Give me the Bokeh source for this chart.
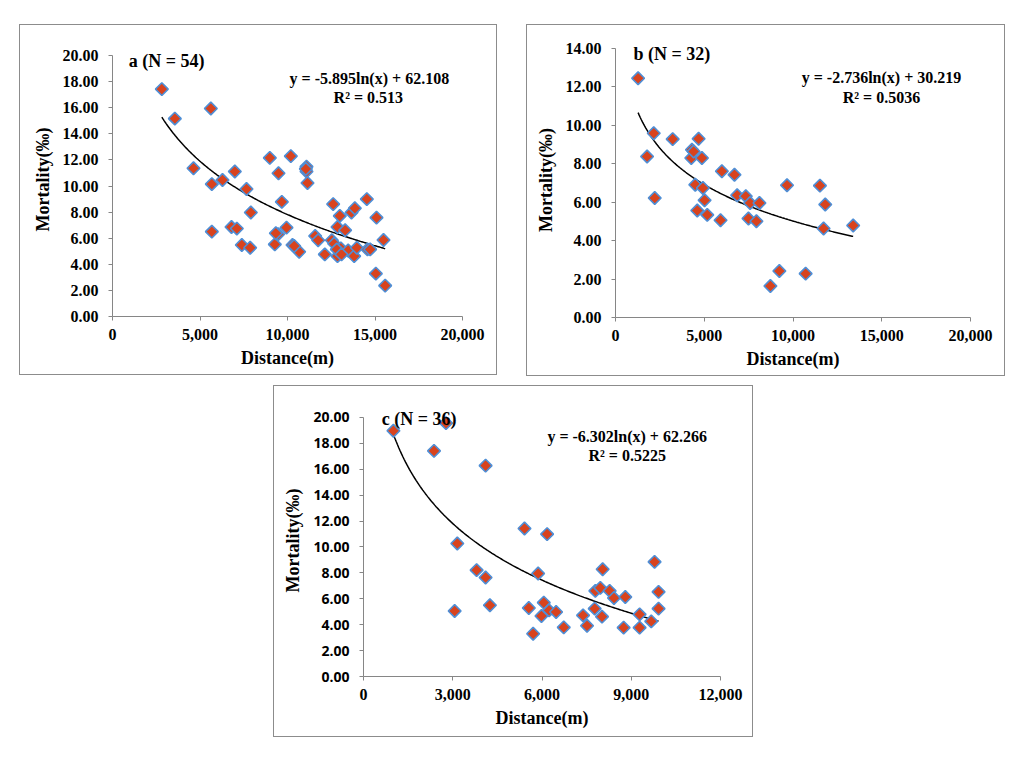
import numpy as np
from bokeh.plotting import figure
from bokeh.layouts import column, row
from bokeh.models import Range1d, FixedTicker, NumeralTickFormatter, Label, Spacer
from bokeh.embed import file_html
from bokeh.resources import INLINE

# ---------------- data ----------------
a_dist = [2819, 3562, 5619, 4629, 5676, 6286, 6990, 7657, 7905, 5676, 6800, 7105, 7390, 7867,
          8990, 10190, 9486, 9676, 9943, 9467, 9276, 10286, 10667, 11086, 11086, 11143, 12610,
          12990, 12857, 13295, 11581, 11752, 12133, 12533, 12667, 12857, 13048, 12819, 13467,
          13810, 13962, 13657, 13848, 14533, 14571, 14724, 15086, 15486, 15048, 15581, 13086,
          10381, 9333, 11048]
a_mort = [17.43, 15.17, 15.94, 11.36, 10.15, 10.46, 11.11, 9.77, 7.97, 6.50, 6.86, 6.74, 5.48, 5.27,
          12.16, 12.29, 10.98, 8.79, 6.81, 6.30, 5.53, 5.48, 4.96, 11.49, 11.11, 10.23, 8.61,
          7.71, 6.86, 6.61, 6.17, 5.84, 4.76, 5.84, 5.58, 4.63, 5.22, 5.14, 5.06,
          4.63, 5.27, 7.97, 8.30, 9.00, 5.14, 5.14, 7.58, 5.86, 3.29, 2.37, 4.76,
          5.40, 6.38, 11.31]

b_dist = [1273, 2154, 1779, 2210, 3221, 4307, 4270, 4682, 4869, 4494, 4925, 5019, 4607, 5169,
          5993, 6704, 5918, 6854, 7341, 7584, 8109, 7491, 7940, 9663, 11517, 11817, 11723,
          13390, 9232, 8727, 10712, 4401]
b_mort = [12.45, 9.59, 8.38, 6.22, 9.28, 8.73, 8.30, 9.30, 8.30, 6.91, 6.74, 6.10, 5.57, 5.34,
          7.61, 7.43, 5.06, 6.36, 6.31, 5.96, 5.96, 5.15, 5.01, 6.88, 6.86, 5.88, 4.63,
          4.79, 2.42, 1.64, 2.28, 8.64]

c_dist = [1006, 2773, 2370, 4104, 3153, 3064, 3802, 4104, 4249, 5412, 6172, 5870, 5557, 6060,
          6239, 6474, 5982, 5702, 6731, 7380, 7514, 7771, 7793, 7961, 8039, 8017, 8274, 8420,
          8800, 8744, 9281, 9281, 9672, 9784, 9918, 9918]
c_mort = [18.97, 19.56, 17.42, 16.28, 10.27, 5.06, 8.21, 7.64, 5.50, 11.43, 10.99, 7.95, 5.29, 5.70,
          5.11, 4.98, 4.67, 3.30, 3.79, 4.72, 3.92, 5.24, 6.61, 6.84, 8.28, 4.62, 6.61, 6.06,
          6.14, 3.77, 4.80, 3.77, 4.26, 8.85, 6.53, 5.24]

# fitted logarithmic trends shown on the chart: y = k*ln(x) + c
a_fit = [-5.895, 62.108]
b_fit = [-2.736, 30.219]
c_fit = [-6.302, 62.266]

titles = ["a (N = 54)", "b  (N = 32)", "c  (N = 36)"]
equations = ["y = -5.895ln(x) + 62.108", "y = -2.736ln(x) + 30.219", "y = -6.302ln(x) + 62.266"]
r2_texts = ["R² = 0.513", "R² = 0.5036", "R² = 0.5225"]

SERIF = "Liberation Serif"
AXIS_COL = "#868686"
FILL = "#d8431e"
EDGE = "#4f8fd6"


def make_panel(dist, mort, fit, title, eq, r2, xmax, ymax, ytop, xstep, ystep,
               w, h, ml, mr, mt, mb, title_pos, eq_pos, r2_pos, ysans=False):
    # the y range extends a little above the last tick so the in-plot titles are not clipped;
    # the axis line itself stops at ymax through its bounds
    p = figure(width=w, height=h, output_backend="svg", toolbar_location=None, title=None,
               x_range=Range1d(0, xmax), y_range=Range1d(0, ytop),
               min_border_left=ml, min_border_right=mr, min_border_top=mt, min_border_bottom=mb,
               background_fill_color="white", border_fill_color="white")
    p.styles = {"border": "1px solid #8c8c8c"}
    p.outline_line_color = None
    p.xgrid.visible = False
    p.ygrid.visible = False

    for ax in (p.xaxis[0], p.yaxis[0]):
        ax.axis_line_color = AXIS_COL
        ax.major_tick_line_color = AXIS_COL
        ax.minor_tick_line_color = None
        ax.major_tick_out = 4
        ax.major_tick_in = 0
        ax.major_label_text_font = SERIF
        ax.major_label_text_font_style = "bold"
        ax.major_label_text_font_size = "16px"
        ax.major_label_text_color = "black"
        ax.axis_label_text_font = SERIF
        ax.axis_label_text_font_style = "bold"
        ax.axis_label_text_font_size = "18px"
        ax.axis_label_text_color = "black"

    p.yaxis.bounds = (0, ymax)
    p.xaxis.ticker = FixedTicker(ticks=list(np.arange(0, xmax + 1, xstep)))
    p.yaxis.ticker = FixedTicker(ticks=list(np.arange(0, ymax + 0.01, ystep)))
    p.xaxis.formatter = NumeralTickFormatter(format="0,0")
    p.yaxis.formatter = NumeralTickFormatter(format="0.00")
    p.xaxis.axis_label = "Distance(m)"
    p.yaxis.axis_label = "Mortality(‰)"
    p.xaxis.major_label_standoff = 8
    p.yaxis.major_label_standoff = 10
    p.xaxis.axis_label_standoff = 5
    p.yaxis.axis_label_standoff = 7
    if ysans:
        p.yaxis.major_label_text_font = "Open Sans"
        p.yaxis.major_label_text_font_size = "14px"

    xs = np.linspace(min(dist), max(dist), 200)
    ys = fit[0] * np.log(xs) + fit[1]
    p.line(xs, ys, line_color="black", line_width=1.5)

    p.scatter(dist, mort, marker="square", angle=np.pi / 4, size=9,
              fill_color=FILL, line_color=EDGE, line_width=1.6)

    p.add_layout(Label(x=title_pos[0], y=title_pos[1], text=title, text_font=SERIF,
                       text_font_style="bold", text_font_size="18px", text_color="black",
                       text_align="left", text_baseline="middle"))
    p.add_layout(Label(x=eq_pos[0], y=eq_pos[1], text=eq, text_font=SERIF,
                       text_font_style="bold", text_font_size="16px", text_color="black",
                       text_align="center", text_baseline="middle"))
    p.add_layout(Label(x=r2_pos[0], y=r2_pos[1], text=r2, text_font=SERIF,
                       text_font_style="bold", text_font_size="16px", text_color="black",
                       text_align="center", text_baseline="middle"))
    return p


# panels a and b sit in one row, whose frames Bokeh aligns: same top/bottom borders,
# the different top-tick positions come from the extra range above the last tick
pa = make_panel(a_dist, a_mort, a_fit, titles[0], equations[0], r2_texts[0],
                20000, 20, 21.0, 5000, 2, 478, 351, 92, 36, 17, 60,
                (930, 19.6), (14678, 18.23), (14620, 16.77))
pb = make_panel(b_dist, b_mort, b_fit, titles[1], equations[1], r2_texts[1],
                20000, 14, 14.31, 5000, 2, 479, 352, 88, 36, 17, 60,
                (1014, 13.69), (14986, 12.49), (14986, 11.46))
pc = make_panel(c_dist, c_mort, c_fit, titles[2], equations[2], r2_texts[2],
                12000, 20, 21.0, 3000, 2, 480, 352, 89, 34, 18, 62,
                (614, 19.87), (8863, 18.55), (8863, 17.08), ysans=True)

layout = column(
    Spacer(height=24),
    row(Spacer(width=19), pa, Spacer(width=29), pb),
    Spacer(height=9),
    row(Spacer(width=273), pc),
)

open("out.html", "w").write(file_html(layout, INLINE))
